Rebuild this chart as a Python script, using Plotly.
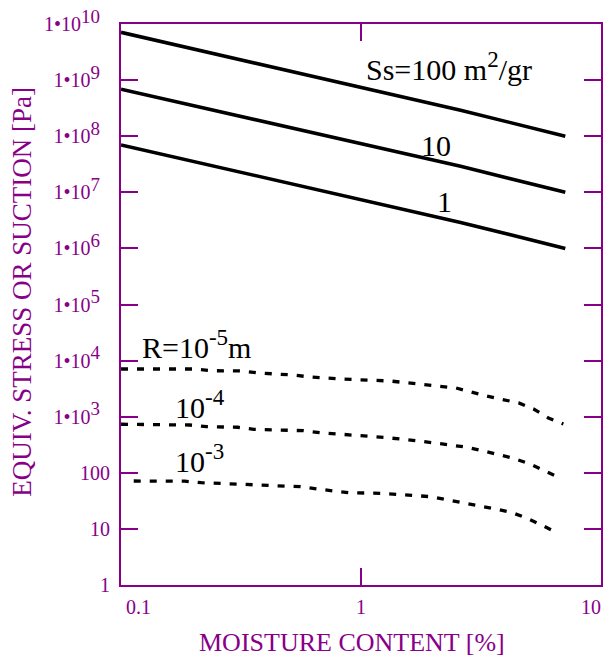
import plotly.graph_objects as go
import math

# ---- data ----
SS_X = [0.1, 2.6, 7.1]
SS_100 = [7.1e9, 2.9e8, 1.0e8]
SS_10 = [6.9e8, 2.9e7, 1.0e7]
SS_1 = [7.0e7, 2.9e6, 1.0e6]

R5_X = [0.1, 0.2, 0.24, 0.32, 0.375, 0.52, 0.6, 0.82, 1.32, 2.12, 2.49, 3.32, 3.86, 4.54, 5.24, 6.04, 6.97]
R5_Y = [7080, 7080, 6600, 6530, 6010, 5540, 5160, 4700, 4330, 3430, 3250, 2340, 2070, 1760, 1370, 950, 740]

R4_X = [0.1, 0.193, 0.227, 0.307, 0.358, 0.576, 0.677, 0.927, 1.28, 1.75, 2.40, 2.77, 3.19, 3.75, 4.33, 5.09, 5.87, 6.77]
R4_Y = [733, 711, 664, 648, 596, 563, 519, 472, 423, 369, 304, 285, 248, 208, 181, 142, 108, 80]

R3_X = [0.113, 0.184, 0.216, 0.297, 0.348, 0.56, 0.656, 0.887, 1.22, 1.96, 2.30, 3.10, 3.64, 4.26, 4.91, 5.66, 6.53]
R3_Y = [71.4, 71, 66.7, 63, 60.6, 56.5, 51.4, 44.2, 43.1, 37.5, 32.7, 25.9, 22.6, 19.5, 15.5, 11.7, 8.6]

Y_TICKS = [1, 10, 100, 1e3, 1e4, 1e5, 1e6, 1e7, 1e8, 1e9, 1e10]
Y_EXPONENTS = list(range(3, 11))
X_TICKS = [0.1, 1, 10]
X_TICK_TEXT = ["0.1", "1", "10"]


def sup(t, size):
    return f"<sup><span style='font-size:{size}px'>{t}</span></sup>"


CURVE_LABELS = [
    ("Ss=100 m" + sup("2", 23) + "/gr", 10 ** 0.368, 10 ** 9.25),
    ("10", 10 ** 0.314, 10 ** 7.843),
    ("1", 10 ** 0.347, 10 ** 6.83),
    ("R=10" + sup("-5", 23) + "m", 10 ** -0.685, 10 ** 4.29),
    ("10" + sup("-4", 23), 10 ** -0.669, 10 ** 3.22),
    ("10" + sup("-3", 23), 10 ** -0.674, 10 ** 2.26),
]

PURPLE = "#880088"
SERIF = "Liberation Serif, Times New Roman, serif"

y_tick_text = ["1", "10", "100"] + [
    "1•10" + sup(str(n), 19) + "\u00a0\u00a0" for n in Y_EXPONENTS
]

fig = go.Figure()
for ys in (SS_100, SS_10, SS_1):
    fig.add_trace(go.Scatter(x=SS_X, y=ys, mode="lines",
                             line=dict(color="black", width=3.6), showlegend=False))
for xs, ys in ((R5_X, R5_Y), (R4_X, R4_Y), (R3_X, R3_Y)):
    fig.add_trace(go.Scatter(x=xs, y=ys, mode="lines",
                             line=dict(color="black", width=3.3, dash="7px,9px"),
                             showlegend=False))

annotations = []
for txt, x, y in CURVE_LABELS:
    annotations.append(dict(text=txt, x=math.log10(x), y=math.log10(y), xref="x", yref="y",
                            showarrow=False, font=dict(family=SERIF, size=30, color="black"),
                            xanchor="center", yanchor="middle"))
anchors = ["left", "center", "right"]
shifts = [3, 0, 2]
for v, t, a, s in zip(X_TICKS, X_TICK_TEXT, anchors, shifts):
    annotations.append(dict(text=t, x=math.log10(v), y=-0.039, xref="x", yref="paper",
                            showarrow=False, font=dict(family=SERIF, size=20, color=PURPLE),
                            xanchor=a, yanchor="middle", xshift=s))
annotations.append(dict(text="MOISTURE CONTENT [%]", x=0.482, y=-0.102, xref="paper", yref="paper",
                        showarrow=False, font=dict(family=SERIF, size=26, color=PURPLE),
                        xanchor="center", yanchor="middle"))
annotations.append(dict(text="EQUIV. STRESS OR SUCTION [Pa]", x=-0.205, y=0.522,
                        xref="paper", yref="paper", textangle=-90,
                        showarrow=False, font=dict(family=SERIF, size=27, color=PURPLE),
                        xanchor="center", yanchor="middle"))

fig.update_layout(
    width=606, height=659,
    margin=dict(l=121, r=3, t=24, b=74),
    plot_bgcolor="white", paper_bgcolor="white",
    annotations=annotations,
    showlegend=False,
)
fig.update_xaxes(type="log", range=[-1, 1], tickvals=[1], showticklabels=False,
                 ticks="inside", ticklen=17, tickwidth=2, tickcolor=PURPLE,
                 showline=True, linecolor=PURPLE, linewidth=2, mirror="ticks",
                 showgrid=False, zeroline=False)
fig.update_yaxes(type="log", range=[0, 10], tickvals=Y_TICKS, ticktext=y_tick_text,
                 ticks="inside", ticklen=17, tickwidth=2, tickcolor=PURPLE,
                 showline=True, linecolor=PURPLE, linewidth=2, mirror="ticks",
                 showgrid=False, zeroline=False, ticklabelstandoff=5,
                 tickfont=dict(family=SERIF, size=20, color=PURPLE))

fig.write_html("out.html", config={"displayModeBar": False},
               post_script="document.body.style.margin='0';document.body.style.overflow='hidden';")
